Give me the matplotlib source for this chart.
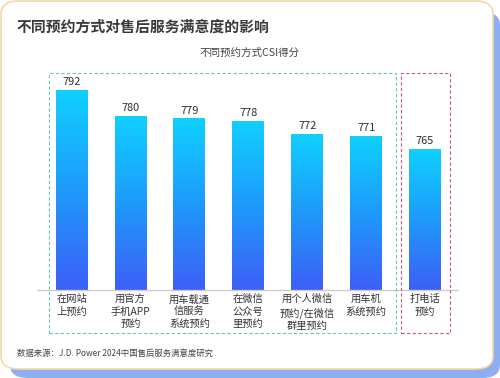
import matplotlib
matplotlib.use('Agg')
import matplotlib.pyplot as plt
import numpy as np
from matplotlib.patches import FancyBboxPatch, Rectangle
from matplotlib.colors import LinearSegmentedColormap

plt.rcParams['font.family'] = ['Noto Sans CJK SC', 'DejaVu Sans']

categories = ['在网站\n上预约', '用官方\n手机APP\n预约', '用车载通\n信服务\n系统预约', '在微信\n公众号\n里预约',
              '用个人微信\n预约/在微信\n群里预约', '用车机\n系统预约', '打电话\n预约']
scores = [792, 780, 779, 778, 772, 771, 765]

title = '不同预约方式对售后服务满意度的影响'
subtitle = '不同预约方式CSI得分'
source = '数据来源：J.D. Power 2024中国售后服务满意度研究'

W, H = 500, 378
fig = plt.figure(figsize=(W / 100, H / 100), dpi=100)
fig.patch.set_facecolor('white')


def px(x, y):
    # pixel (from top-left) -> figure fraction
    return x / W, 1 - y / H


# shadow + card
shadow = FancyBboxPatch(px(10, 378), 490 / W, 366 / H, boxstyle='round,pad=0,rounding_size=0.035',
                        transform=fig.transFigure, facecolor='#8eaef4', edgecolor='none', zorder=0)
card = FancyBboxPatch(px(1, 369), 492 / W, 368 / H, boxstyle='round,pad=0,rounding_size=0.035',
                      transform=fig.transFigure, facecolor='white', edgecolor='#f6d8a8', linewidth=1.2, zorder=1)
fig.patches.extend([shadow, card])

fig.text(*px(17, 27), title, fontsize=10.7, fontweight='bold', color='#3a3a3a', va='center', ha='left')
fig.text(*px(250, 53), subtitle, fontsize=7.6, color='#444444', va='center', ha='center')
fig.text(*px(17, 353), source, fontsize=6.0, color='#444444', va='center', ha='left')

# bars axes: baseline at y=290px, spans x 37..458px
x0, x1 = 37, 458
ytop = 290 - 100 * 2.166
ax = fig.add_axes([x0 / W, 1 - 290 / H, (x1 - x0) / W, (290 - ytop) / H])
ax.set_facecolor('none')
ax.set_zorder(2)

cmap = LinearSegmentedColormap.from_list('bar', ['#3d5ff6', '#1e9afb', '#10d0ff'])
grad = np.linspace(0, 1, 256).reshape(-1, 1)
bw = 0.54
for i, v in enumerate(scores):
    ax.imshow(grad, extent=(i - bw / 2, i + bw / 2, 700, v), origin='lower', cmap=cmap,
              aspect='auto', zorder=2)
    ax.text(i, v + 1.5, str(v), ha='center', va='bottom', fontsize=7.8, color='#2b2b2b')
ax.set_xlim(-0.586, 6.56)
ax.set_ylim(700, 800)

ax.set_xticks(range(len(categories)))
ax.set_xticklabels(categories, fontsize=7.4, color='#333333', linespacing=1.3)
ax.tick_params(axis='x', length=0, pad=3)
ax.set_yticks([])
for s in ['top', 'left', 'right']:
    ax.spines[s].set_visible(False)
ax.spines['bottom'].set_color('#cccccc')
ax.spines['bottom'].set_linewidth(1)

# dashed group boxes
green = Rectangle(px(49, 333), 347 / W, 260 / H, transform=fig.transFigure, fill=False,
                  edgecolor='#62c9b4', linestyle=(0, (3, 2)), linewidth=0.8, zorder=3)
red = Rectangle(px(401, 333), 49 / W, 260 / H, transform=fig.transFigure, fill=False,
                edgecolor='#d6557e', linestyle=(0, (3, 2)), linewidth=0.8, zorder=3)
fig.patches.extend([green, red])

fig.savefig('out.png', dpi=100)
